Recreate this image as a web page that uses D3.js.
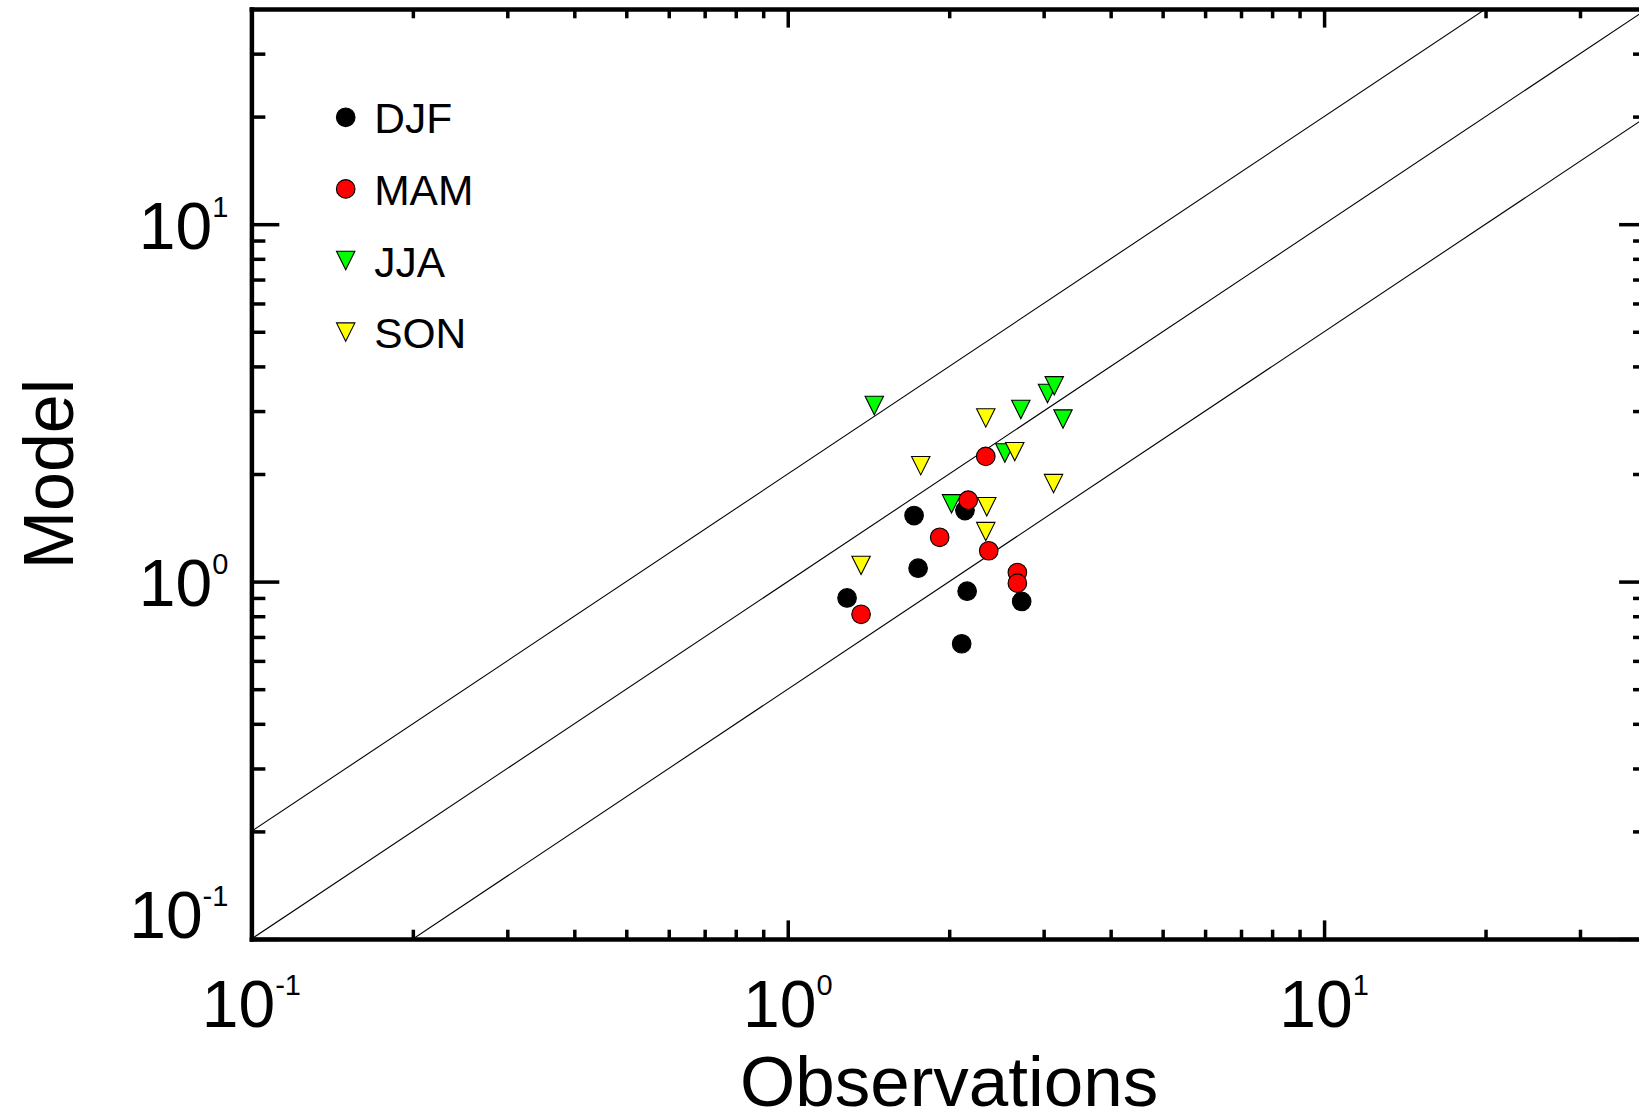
<!DOCTYPE html>
<html>
<head>
<meta charset="utf-8">
<script src="https://cdn.jsdelivr.net/npm/d3@7"></script>
<style>
    body { margin: 0; background: #fff; }
    svg { display: block; }
    text { font-family: "Liberation Sans", Arial, Helvetica, sans-serif; fill: #000; }
</style>
</head>
<body>
<svg id="Chart"></svg>
<script>
            // season names, in the order of the legend
            let seasons = ["DJF", "MAM", "JJA", "SON"];

            // observed and modelled values, one per station
            let djfObs   = [1.29, 1.72, 1.75, 2.14, 2.16, 2.11, 2.73];
            let djfModel = [0.90, 1.53, 1.09, 1.58, 0.94, 0.67, 0.88];
            let mamObs   = [2.34, 2.17, 1.92, 2.37, 2.68, 2.68, 1.37];
            let mamModel = [2.24, 1.69, 1.33, 1.22, 1.06, 0.99, 0.81];
            let jjaObs   = [1.45, 2.72, 3.05, 3.14, 3.26, 2.54, 2.02];
            let jjaModel = [3.11, 3.03, 3.36, 3.53, 2.85, 2.29, 1.65];
            let sonObs   = [2.34, 1.77, 2.65, 3.13, 2.35, 2.34, 1.37];
            let sonModel = [2.87, 2.11, 2.31, 1.88, 1.62, 1.38, 1.11];

            let seasonColors = ["#000000", "#ff0000", "#00ff00", "#ffff00"];
            let seasonShapes = ["circle", "circle", "triangle", "triangle"];

            // both axes share the same log range and ticks
            let axisDomain = [0.1, 40];
            let majorTicks = [0.1, 1, 10];
            let minorTicks = [0.2, 0.3, 0.4, 0.5, 0.6, 0.7, 0.8, 0.9,
                              2, 3, 4, 5, 6, 7, 8, 9, 20, 30];
            let tickExponents = ["-1", "0", "1"];

            // model = ratio * obs reference lines
            let refRatios = [0.5, 1, 2];

            function getConfig() {
                let width = 1639;
                let height = 1112;
                // the plot box runs a little past the right edge of the picture
                let margin = {
                    top: 9,
                    left: 251.4,
                    right: width - 1647,
                    bottom: height - 939
                }
                let bodyWidth = width - margin.left - margin.right
                let bodyHeight = height - margin.top - margin.bottom

                let container = d3.select("#Chart")
                container
                    .attr("width", width)
                    .attr("height", height)

                return {width, height, margin, bodyWidth, bodyHeight, container}
            }

            function getScales(config) {
                let {margin, bodyWidth, bodyHeight} = config;
                let xScale = d3
                    .scaleLog()
                    .domain(axisDomain)
                    .range([margin.left, margin.left + bodyWidth])
                let yScale = d3
                    .scaleLog()
                    .domain(axisDomain)
                    .range([margin.top + bodyHeight, margin.top])
                return {xScale, yScale}
            }

            function drawRefLines(scales, config) {
                let {xScale, yScale} = scales
                let {container, margin, bodyWidth, bodyHeight} = config
                container.append("clipPath")
                    .attr("id", "plotClip")
                    .append("rect")
                    .attr("x", margin.left)
                    .attr("y", margin.top)
                    .attr("width", bodyWidth)
                    .attr("height", bodyHeight)

                let line = d3.line()
                    .x(d => xScale(d[0]))
                    .y(d => yScale(d[1]))

                container.append("g")
                    .attr("clip-path", "url(#plotClip)")
                    .selectAll("path")
                    .data(refRatios)
                    .enter()
                    .append("path")
                    .attr("d", r => line(axisDomain.map(v => [v, v * r])))
                    .attr("fill", "none")
                    .attr("stroke", "#000")
                    .attr("stroke-width", 1.1)
            }

            function trianglePath(s) {
                // downward triangle, as wide as it is tall
                return `M${-s},${-s}L${s},${-s}L0,${s}Z`
            }

            function drawMarker(g, shape, color) {
                if (shape == "circle") {
                    g.append("circle")
                        .attr("r", 9.3)
                        .attr("fill", color)
                        .attr("stroke", "#000")
                        .attr("stroke-width", 1.1)
                } else {
                    g.append("path")
                        .attr("d", trianglePath(9.2))
                        .attr("fill", color)
                        .attr("stroke", "#000")
                        .attr("stroke-width", 1.1)
                }
            }

            function drawPoints(scales, config) {
                let {xScale, yScale} = scales
                let {container} = config
                let obs = [djfObs, mamObs, jjaObs, sonObs]
                let model = [djfModel, mamModel, jjaModel, sonModel]
                // drawing order: DJF, JJA, MAM, SON
                let order = [0, 2, 1, 3]
                let body = container.append("g")
                order.forEach(i => {
                    let pts = obs[i].map((o, k) => ({obs: o, model: model[i][k]}))
                    body.selectAll(".pt-" + seasons[i])
                        .data(pts)
                        .enter()
                        .append("g")
                        .attr("class", "pt-" + seasons[i])
                        .attr("transform", d => `translate(${xScale(d.obs)},${yScale(d.model)})`)
                        .each(function () {
                            drawMarker(d3.select(this), seasonShapes[i], seasonColors[i])
                        })
                })
            }

            function styleAxis(g, hasDomain) {
                g.selectAll("text").remove()
                g.selectAll(".tick line")
                    .attr("stroke", "#000")
                    .attr("stroke-width", 3.5)
                if (hasDomain) {
                    g.select(".domain")
                        .attr("stroke", "#000")
                        .attr("stroke-width", 4.5)
                        .attr("stroke-linecap", "square")
                } else {
                    g.select(".domain").remove()
                }
            }

            function drawAxes(scales, config) {
                let {xScale, yScale} = scales
                let {container, margin, bodyWidth, bodyHeight} = config
                let xLen = 0.02 * bodyHeight  // tick length on x axes
                let yLen = 0.02 * bodyWidth   // tick length on y axes
                let sides = [
                    {make: d3.axisBottom, scale: xScale, len: xLen, tr: `translate(0,${margin.top + bodyHeight})`},
                    {make: d3.axisTop, scale: xScale, len: xLen, tr: `translate(0,${margin.top})`},
                    {make: d3.axisLeft, scale: yScale, len: yLen, tr: `translate(${margin.left},0)`},
                    {make: d3.axisRight, scale: yScale, len: yLen, tr: `translate(${margin.left + bodyWidth},0)`}
                ]
                sides.forEach(s => {
                    let minor = s.make(s.scale)
                        .tickValues(minorTicks)
                        .tickSizeInner(-s.len / 2)
                        .tickSizeOuter(0)
                    container.append("g")
                        .attr("transform", s.tr)
                        .call(minor)
                        .call(g => styleAxis(g, false))

                    let major = s.make(s.scale)
                        .tickValues(majorTicks)
                        .tickSizeInner(-s.len)
                        .tickSizeOuter(0)
                    container.append("g")
                        .attr("transform", s.tr)
                        .call(major)
                        .call(g => styleAxis(g, true))
                })
            }

            function powerLabel(sel, exp) {
                sel.append("tspan").text("10")
                sel.append("tspan")
                    .attr("font-size", 29)
                    .attr("dy", -32)
                    .text(exp)
            }

            function drawLabels(scales, config) {
                let {xScale, yScale} = scales
                let {container, margin, bodyWidth, bodyHeight} = config
                let bottom = margin.top + bodyHeight

                majorTicks.forEach((v, i) => {
                    container.append("text")
                        .attr("x", xScale(v))
                        .attr("y", bottom + 88)
                        .attr("text-anchor", "middle")
                        .attr("font-size", 66)
                        .call(powerLabel, tickExponents[i])

                    // lowest label is pushed up so it sits above the x axis
                    container.append("text")
                        .attr("x", margin.left - 23)
                        .attr("y", Math.min(yScale(v) + 24.5, bottom - 1))
                        .attr("text-anchor", "end")
                        .attr("font-size", 66)
                        .call(powerLabel, tickExponents[i])
                })

                container.append("text")
                    .attr("x", margin.left + bodyWidth / 2)
                    .attr("y", 1106)
                    .attr("text-anchor", "middle")
                    .attr("font-size", 71)
                    .text("Observations")

                container.append("text")
                    .attr("transform", `translate(73,${margin.top + bodyHeight / 2}) rotate(-90)`)
                    .attr("text-anchor", "middle")
                    .attr("font-size", 70)
                    .text("Model")
            }

            function drawLegend(config) {
                let {container} = config
                let legend = container.append("g")
                    .attr("transform", "translate(345.7,117.3)")
                let rows = legend.selectAll("g")
                    .data(seasons)
                    .enter()
                    .append("g")
                    .attr("transform", (d, i) => `translate(0,${i * 71.6})`)
                rows.each(function (d, i) {
                    drawMarker(d3.select(this), seasonShapes[i], seasonColors[i])
                })
                rows.append("text")
                    .attr("x", 28.5)
                    .attr("y", 16)
                    .attr("font-size", 42.5)
                    .text(d => d)
            }

            function showChart() {
                let config = getConfig()
                let scales = getScales(config)
                drawRefLines(scales, config)
                drawPoints(scales, config)
                drawAxes(scales, config)
                drawLabels(scales, config)
                drawLegend(config)
            }

            showChart();
</script>
</body>
</html>
